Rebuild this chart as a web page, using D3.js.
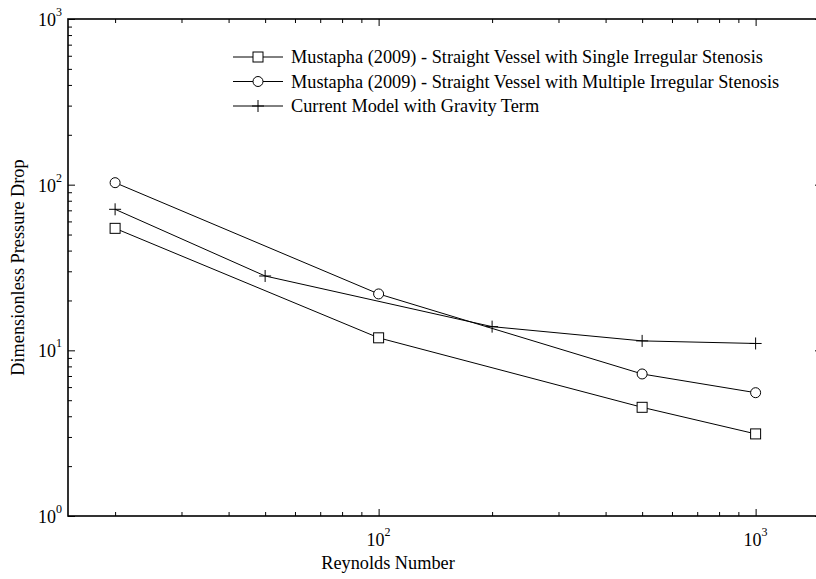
<!DOCTYPE html>
<html>
<head>
<meta charset="utf-8">
<script src="https://cdn.jsdelivr.net/npm/d3@7"></script>
<style>
  html, body { margin: 0; padding: 0; background: #fff; }
  svg { display: block; font-family: "Liberation Serif", "Times New Roman", serif; }
  .axis path, .axis line { stroke: #000; }
</style>
</head>
<body>
<svg id="chart" width="816" height="579"></svg>
<script>
// Reynolds number vs. dimensionless pressure drop (log-log)
const reSingle = [20, 100, 500, 1000];
const dpSingle = [54.5, 11.9, 4.53, 3.13];

const reMultiple = [20, 100, 500, 1000];
const dpMultiple = [102.8, 21.9, 7.2, 5.55];

const reGravity = [20, 50, 200, 500, 1000];
const dpGravity = [71, 28.1, 13.9, 11.4, 11.0];

const seriesNames = [
  "Mustapha (2009) - Straight Vessel with Single Irregular Stenosis",
  "Mustapha (2009) - Straight Vessel with Multiple Irregular Stenosis",
  "Current Model with Gravity Term"
];
const seriesMarkers = ["square", "circle", "plus"];

const xMajorTicks = [100, 1000];
const yMajorTicks = [1, 10, 100, 1000];
const xLabel = "Reynolds Number";
const yLabel = "Dimensionless Pressure Drop";

const margin = { left: 68, top: 19, right: 822, bottom: 516 };
const textSize = 18.3;

const svg = d3.select("#chart");
const x = d3.scaleLog().domain([15, 1500]).range([margin.left, margin.right]);
const y = d3.scaleLog().domain([1, 1000]).range([margin.bottom, margin.top]);

// minor tick values: 2..9 in each decade, inside the domain
function minorTicks(scale) {
  const [lo, hi] = scale.domain();
  const out = [];
  for (let e = Math.floor(Math.log10(lo)); e <= Math.ceil(Math.log10(hi)); e++) {
    for (let m = 2; m <= 9; m++) {
      const v = m * Math.pow(10, e);
      if (v >= lo && v <= hi) out.push(v);
    }
  }
  return out;
}
const xMinor = minorTicks(x);
const yMinor = minorTicks(y);

const majorLen = 7, minorLen = 4;
const W = margin.right - margin.left, H = margin.bottom - margin.top;

function drawAxis(gen, tx, ty, vals, len) {
  const g = svg.append("g").attr("class", "axis")
    .attr("transform", `translate(${tx},${ty})`)
    .call(gen.tickValues(vals).tickSize(len).tickSizeOuter(0).tickFormat(""));
  g.select(".domain").remove();
  g.selectAll(".tick line").attr("stroke-width", 1);
  return g;
}
// ticks point inward on all four sides
drawAxis(d3.axisTop(x), 0, margin.bottom, xMajorTicks, majorLen);
drawAxis(d3.axisTop(x), 0, margin.bottom, xMinor, minorLen);
drawAxis(d3.axisBottom(x), 0, margin.top, xMajorTicks, majorLen);
drawAxis(d3.axisBottom(x), 0, margin.top, xMinor, minorLen);
drawAxis(d3.axisRight(y), margin.left, 0, yMajorTicks, majorLen);
drawAxis(d3.axisRight(y), margin.left, 0, yMinor, minorLen);
drawAxis(d3.axisLeft(y), margin.right, 0, yMajorTicks, majorLen);
drawAxis(d3.axisLeft(y), margin.right, 0, yMinor, minorLen);

// frame
svg.append("rect")
  .attr("x", margin.left).attr("y", margin.top)
  .attr("width", W).attr("height", H)
  .attr("fill", "none").attr("stroke", "#000").attr("stroke-width", 1.6);

// power-of-ten tick labels
function powLabel(sel) {
  sel.each(function (d) {
    const t = d3.select(this);
    t.append("tspan").text("10");
    t.append("tspan").attr("font-size", 12).attr("dy", -10).text(Math.round(Math.log10(d)));
  });
}
svg.append("g").selectAll("text").data(xMajorTicks).join("text")
  .attr("x", d => x(d)).attr("y", margin.bottom + 30)
  .attr("text-anchor", "middle").attr("font-size", 18)
  .call(powLabel);
svg.append("g").selectAll("text").data(yMajorTicks).join("text")
  .attr("x", margin.left - 6).attr("y", d => y(d) + 7)
  .attr("text-anchor", "end").attr("font-size", 18)
  .call(powLabel);

// axis titles
svg.append("text").attr("x", 388).attr("y", 569)
  .attr("text-anchor", "middle").attr("font-size", textSize).text(xLabel);
svg.append("text")
  .attr("transform", `translate(24,${(margin.top + margin.bottom) / 2}) rotate(-90)`)
  .attr("text-anchor", "middle").attr("font-size", textSize).text(yLabel);

// markers
function drawMarker(g, kind, cx, cy) {
  if (kind === "square") {
    g.append("rect").attr("x", cx - 5).attr("y", cy - 5).attr("width", 10).attr("height", 10)
      .attr("fill", "#fff").attr("stroke", "#000").attr("stroke-width", 1);
  } else if (kind === "circle") {
    g.append("circle").attr("cx", cx).attr("cy", cy).attr("r", 5)
      .attr("fill", "#fff").attr("stroke", "#000").attr("stroke-width", 1);
  } else {
    g.append("path").attr("d", `M${cx - 6},${cy}H${cx + 6}M${cx},${cy - 6}V${cy + 6}`)
      .attr("stroke", "#000").attr("stroke-width", 1).attr("fill", "none");
  }
}

const series = [
  { re: reSingle, dp: dpSingle },
  { re: reMultiple, dp: dpMultiple },
  { re: reGravity, dp: dpGravity }
];
const line = d3.line().x(d => x(d[0])).y(d => y(d[1]));
series.forEach((s, i) => {
  const pts = s.re.map((r, j) => [r, s.dp[j]]);
  const g = svg.append("g");
  g.append("path").attr("d", line(pts)).attr("fill", "none")
    .attr("stroke", "#000").attr("stroke-width", 1);
  pts.forEach(p => drawMarker(g, seriesMarkers[i], x(p[0]), y(p[1])));
});

// legend
const legend = svg.append("g");
seriesNames.forEach((name, i) => {
  const ly = 57 + i * 24.5;
  legend.append("line").attr("x1", 233).attr("x2", 283).attr("y1", ly).attr("y2", ly)
    .attr("stroke", "#000").attr("stroke-width", 1);
  drawMarker(legend, seriesMarkers[i], 258, ly);
  legend.append("text").attr("x", 291).attr("y", ly + 6)
    .attr("font-size", textSize).text(name);
});
</script>
</body>
</html>
